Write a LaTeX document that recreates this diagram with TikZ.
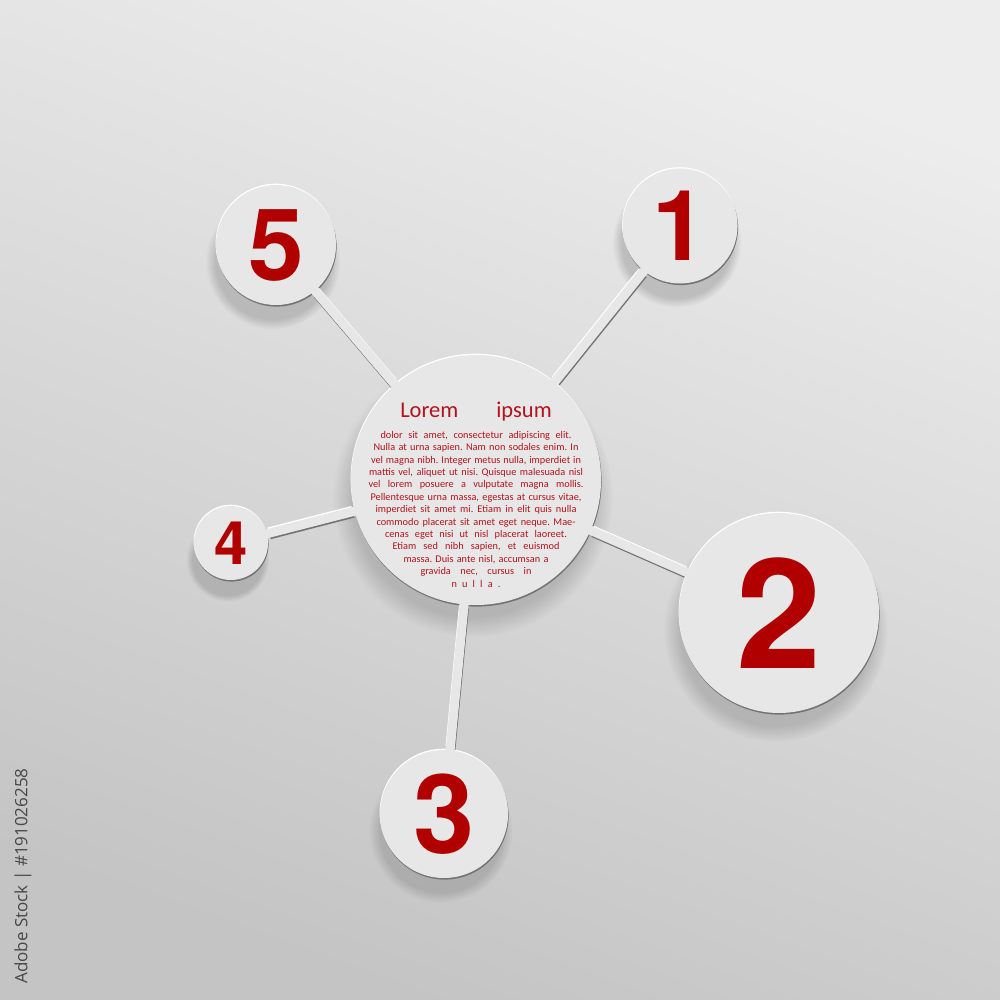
\documentclass[tikz,border=0pt]{standalone}
\usepackage{fontspec}
\usetikzlibrary{positioning,shadows}
\newfontfamily\loremfont{Carlito}
\newfontfamily\digitfont{TeX Gyre Heros}
\newfontfamily\stockfont{Open Sans}
\definecolor{bubblefill}{RGB}{231,231,231}
\definecolor{rimdark}{RGB}{115,115,115}
\definecolor{digitred}{RGB}{176,0,0}
\definecolor{textred}{RGB}{180,18,28}
\definecolor{bgtop}{RGB}{237,237,237}
\definecolor{bgbottom}{RGB}{196,196,196}
\definecolor{stockgray}{RGB}{72,72,72}
\frenchspacing

\begin{document}
\begin{tikzpicture}[x=1pt,y=1pt,node distance=10pt,on grid,
	bubble/.style={circle,inner sep=0pt,fill=bubblefill,text=digitred,
		circular drop shadow={shadow xshift=-3pt,shadow yshift=-15pt,shadow scale=1.12,opacity=.38},
		drop shadow={shadow xshift=.6pt,shadow yshift=-1.6pt,fill=rimdark,opacity=1},
		drop shadow={shadow xshift=-.4pt,shadow yshift=1.3pt,fill=white,opacity=1}},
	digit/.style={font=\digitfont\bfseries\fontsize{#1}{#1}\selectfont},
	linkdark/.style={line width=9pt,draw=rimdark,shorten <=2pt,shorten >=2pt,transform canvas={shift={(.6pt,-1.6pt)}}},
	linklight/.style={line width=9pt,draw=white,shorten <=2pt,shorten >=2pt,transform canvas={shift={(-.4pt,1.3pt)}}},
	linkfill/.style={line width=9pt,draw=bubblefill,shorten <=-6pt,shorten >=-6pt}]

		\useasboundingbox (0,0) rectangle (1000,-1000);
		\shade[top color=bgtop,bottom color=bgbottom,shading angle=-20] (0,0) rectangle (1000,-1000);

		\node[bubble,minimum size=250pt,text=textred]		(main)	at (476,-480) {\raisebox{-17pt}[0pt][0pt]{\parbox{240pt}{\centering
			{\loremfont\fontsize{22.5}{24}\selectfont Lorem\hspace{38pt}ipsum}\par\vspace{8.4pt}
			\loremfont\fontsize{10.3}{12.4}\selectfont
			\makebox[191pt][s]{dolor sit amet, consectetur adipiscing elit.}\\
			\makebox[205pt][s]{Nulla at urna sapien. Nam non sodales enim. In}\\
			\makebox[210pt][s]{vel magna nibh. Integer metus nulla, imperdiet in}\\
			\makebox[214pt][s]{mattis vel, aliquet ut nisi. Quisque malesuada nisl}\\
			\makebox[215pt][s]{vel lorem posuere a vulputate magna mollis.}\\
			\makebox[211pt][s]{Pellentesque urna massa, egestas at cursus vitae,}\\
			\makebox[201pt][s]{imperdiet sit amet mi. Etiam in elit quis nulla}\\
			\makebox[199pt][s]{commodo placerat sit amet eget neque. Mae-}\\
			\makebox[182pt][s]{cenas eget nisi ut nisl placerat laoreet.}\\
			\makebox[167pt][s]{Etiam sed nibh sapien, et euismod}\\
			\makebox[145pt][s]{massa. Duis ante nisl, accumsan a}\\
			\makebox[111pt][s]{gravida nec, cursus in}\\
			\makebox[49pt][s]{n u l l a .}}}};
		\node[bubble,digit=98,minimum size=115pt,above right=254pt and 204pt of main]	(n1)	{1};
		\node[bubble,digit=153,minimum size=200pt,below right=133pt and 303pt of main]	(n2)	{2};
		\node[bubble,digit=110,minimum size=128pt,below left=334pt and 32pt of main]	(n3)	{3};
		\node[bubble,digit=60,minimum size=74pt,below left=63pt and 245pt of main]		(n4)	{4};
		\node[bubble,digit=100,minimum size=120pt,above left=235pt and 200pt of main]	(n5)	{5};

		\draw[linkdark] (main) -- (n1);
		\draw[linkdark] (main) -- (n2);
		\draw[linkdark] (main) -- (n3);
		\draw[linkdark] (main) -- (n4);
		\draw[linkdark] (main) -- (n5);
		\draw[linklight] (main) -- (n1);
		\draw[linklight] (main) -- (n2);
		\draw[linklight] (main) -- (n3);
		\draw[linklight] (main) -- (n4);
		\draw[linklight] (main) -- (n5);
		\draw[linkfill] (main) -- (n1);
		\draw[linkfill] (main) -- (n2);
		\draw[linkfill] (main) -- (n3);
		\draw[linkfill] (main) -- (n4);
		\draw[linkfill] (main) -- (n5);

		\node[rotate=90,text=stockgray,font=\stockfont\fontsize{17}{17}\selectfont]	(stockid)	at (23,-876) {Adobe Stock | \#191026258};
	\end{tikzpicture}
\end{document}
